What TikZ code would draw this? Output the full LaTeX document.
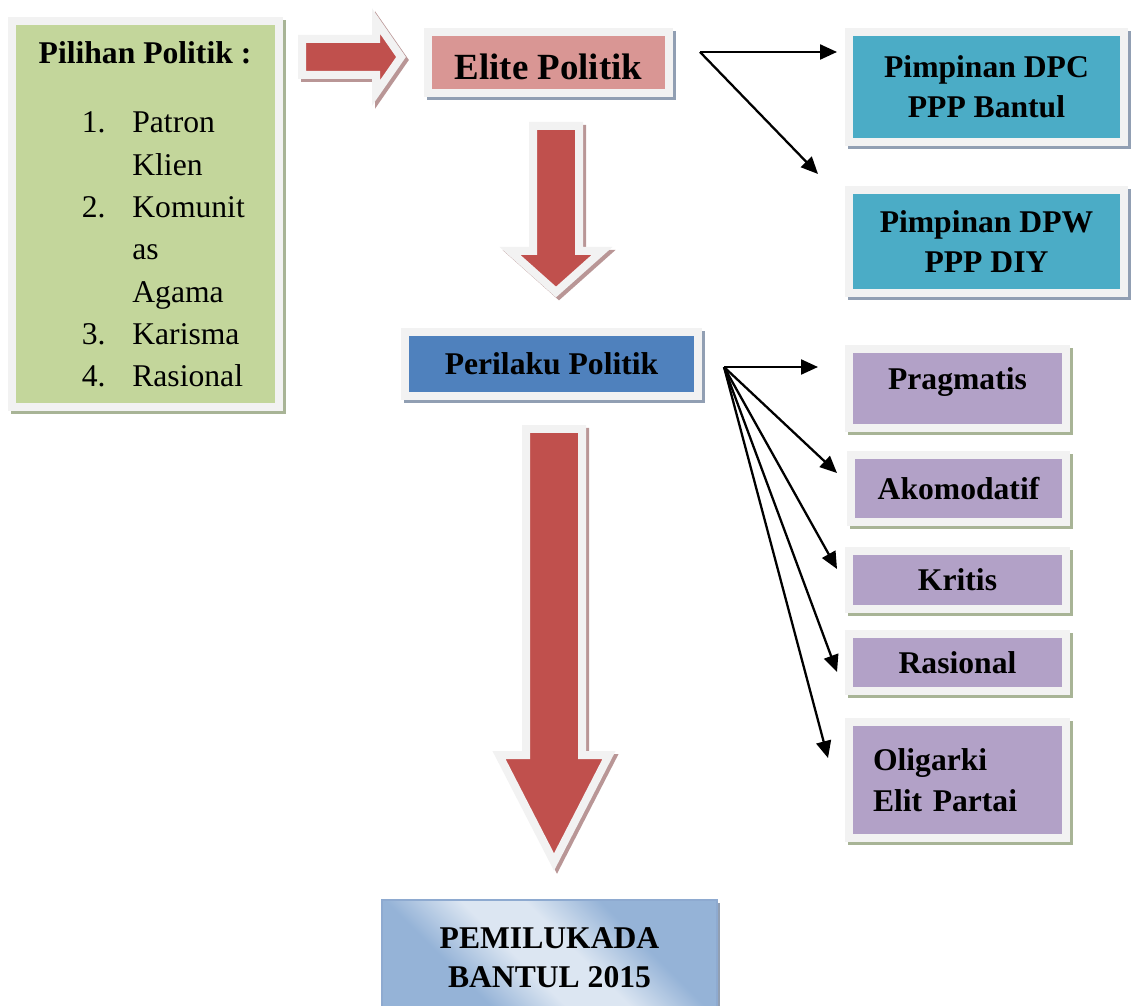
\documentclass[tikz,border=0pt]{standalone}
\usepackage{fontspec}
\setmainfont{Liberation Serif}
\usetikzlibrary{arrows.meta,shadows}
\definecolor{frame}{HTML}{F2F2F2}
\definecolor{greenbox}{HTML}{C3D69B}
\definecolor{pinkbox}{HTML}{D99694}
\definecolor{cyanbox}{HTML}{4BACC6}
\definecolor{bluebox}{HTML}{4F81BD}
\definecolor{purplebox}{HTML}{B2A1C7}
\definecolor{redarrow}{HTML}{C0504D}
\definecolor{shadowolive}{HTML}{A8B496}
\definecolor{shadowblue}{HTML}{919FB3}
\definecolor{shadowred}{HTML}{B99696}
\definecolor{pemlight}{HTML}{DCE6F2}
\definecolor{pemdark}{HTML}{95B3D7}
\definecolor{pemborder}{HTML}{8EAAD0}
\pgfdeclarehorizontalshading{pemshade}{100bp}{color(0bp)=(pemdark); color(33bp)=(pemdark); color(45bp)=(pemlight); color(55bp)=(pemlight); color(67bp)=(pemdark); color(100bp)=(pemdark)}
\begin{document}
\begin{tikzpicture}[x=0.02cm, y=-0.02cm, line join=miter, font=\fontsize{18}{23}\selectfont\bfseries,
  box/.style={draw=frame, line width=0.16cm, inner sep=0pt, align=center,
    drop shadow={shadow xshift=0.06cm, shadow yshift=-0.06cm, fill=#1, draw=#1, line width=0.16cm, opacity=1}},
  block/.style={draw=frame, line width=0.16cm, fill=redarrow,
    drop shadow={shadow xshift=0.06cm, shadow yshift=-0.06cm, fill=shadowred, draw=shadowred, line width=0.16cm, opacity=1}},
  link/.style={line width=1.3pt, -{Triangle[length=0.34cm, width=0.3cm]}}]
\useasboundingbox (0,0) rectangle (1135,1006);

\node[box=shadowolive, fill=greenbox, minimum width=5.34cm, minimum height=7.72cm] (pilihan) at (145.5,214) {};
\node[anchor=base] (pilihanjudul) at (145,64) {Pilihan Politik :};
\foreach \nr/\txt [count=\i] in {1./Patron, /Klien, 2./Komunit, /as, /Agama, 3./Karisma, 4./Rasional}{
  \node[anchor=base east, inner sep=0pt, font=\fontsize{18}{23}\selectfont] (nr\i) at (106,{133+42.3*(\i-1)}) {\nr};
  \node[anchor=base west, inner sep=0pt, font=\fontsize{18}{23}\selectfont] (txt\i) at (132,{133+42.3*(\i-1)}) {\txt};
}

\draw[block] (302,39) -- (376,39) -- (376,21) -- (401,57) -- (376,93) -- (376,75) -- (302,75) -- cycle;
\draw[block] (533,126) -- (579,126) -- (579,251) -- (602,251) -- (556,292) -- (510,251) -- (533,251) -- cycle;
\draw[block] (526,429) -- (582,429) -- (582,755) -- (609,755) -- (554,862) -- (499,755) -- (526,755) -- cycle;

\node[box=shadowblue, fill=pinkbox, minimum width=4.82cm, minimum height=1.22cm, text height=0.68cm, font=\fontsize{21}{25}\selectfont\bfseries] (elite) at (548.5,62.5) {Elite Politik};
\node[box=shadowblue, fill=cyanbox, minimum width=5.5cm, minimum height=2.2cm] (dpc) at (986.5,87) {Pimpinan DPC\\PPP Bantul};
\node[box=shadowblue, fill=cyanbox, minimum width=5.5cm, minimum height=2.06cm] (dpw) at (986.5,241.5) {Pimpinan DPW\\PPP DIY};
\node[box=shadowblue, fill=bluebox, minimum width=5.86cm, minimum height=1.28cm] (perilaku) at (551.5,364) {Perilaku Politik};

\node[box=shadowolive, fill=purplebox, minimum width=4.34cm, minimum height=1.58cm, text depth=0.39cm] (pragmatis) at (957.5,388.5) {Pragmatis};
\node[box=shadowolive, fill=purplebox, minimum width=4.30cm, minimum height=1.34cm] (akomodatif) at (958.5,488.5) {Akomodatif};
\node[box=shadowolive, fill=purplebox, minimum width=4.34cm, minimum height=1.16cm] (kritis) at (957.5,580) {Kritis};
\node[box=shadowolive, fill=purplebox, minimum width=4.34cm, minimum height=1.14cm] (rasional) at (957.5,662.5) {Rasional};
\node[box=shadowolive, fill=purplebox, minimum width=4.34cm, minimum height=2.32cm, text width=3.38cm, align=left] (oligarki) at (957.5,780) {Oligarki\\Elit Partai};

\node[draw=pemborder, line width=0.8pt, shade, shading=pemshade, shading angle=45, inner sep=0pt, align=center,
  minimum width=6.7cm, minimum height=2.3cm, font=\fontsize{18}{22}\selectfont\bfseries,
  drop shadow={shadow xshift=0.06cm, shadow yshift=-0.06cm, fill=shadowblue, opacity=1}] (pemilukada) at (549.5,957.5) {PEMILUKADA\\BANTUL 2015};

\coordinate (fanA) at (700,52);
\coordinate (toDPC) at (837,52);
\coordinate (toDPW) at (818,174);
\draw[link] (fanA) -- (toDPC);
\draw[link] (fanA) -- (toDPW);

\coordinate (fanB) at (724,367);
\coordinate (toPrag) at (818,367);
\coordinate (toAkom) at (837,473);
\coordinate (toKrit) at (837,569);
\coordinate (toRas) at (837,672);
\coordinate (toOlig) at (828,758);
\foreach \e in {toPrag,toAkom,toKrit,toRas,toOlig}
  \draw[link] (fanB) -- (\e);
\end{tikzpicture}
\end{document}
